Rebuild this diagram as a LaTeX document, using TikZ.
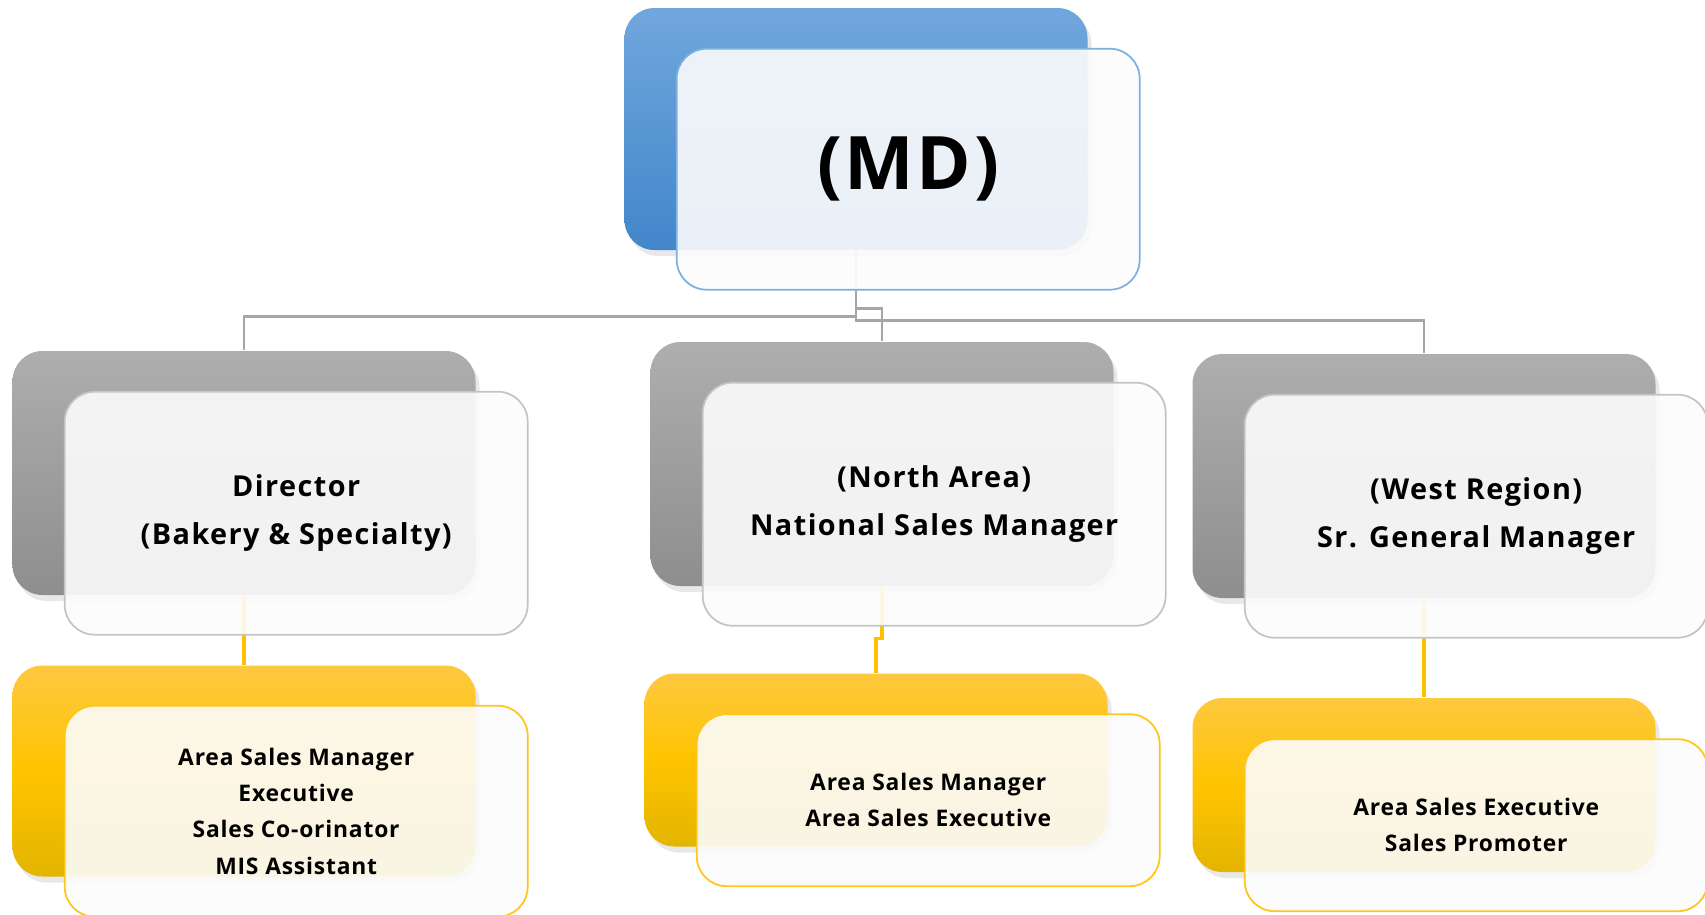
\documentclass[tikz,border=0pt]{standalone}
\usepackage{fontspec}
\setmainfont{Open Sans}
\newfontfamily\widefont{Open Sans}[LetterSpace=5]
\newfontfamily\lightwidefont{Open Sans}[LetterSpace=3.5]
\usetikzlibrary{shadows}
\definecolor{bluetop}{HTML}{70A7DD}
\definecolor{bluebot}{HTML}{4286CA}
\definecolor{bluerim}{HTML}{7DB0E2}
\definecolor{graytop}{HTML}{AEAEAE}
\definecolor{graybot}{HTML}{8E8E8E}
\definecolor{grayrim}{HTML}{C4C4C4}
\definecolor{goldtop}{HTML}{FEC840}
\definecolor{goldmid}{HTML}{FFC400}
\definecolor{goldbot}{HTML}{E3B400}
\definecolor{goldrim}{HTML}{FFC61A}
\definecolor{linegray}{HTML}{A6A6A6}
\definecolor{linegold}{HTML}{FFC000}
\begin{document}
\begin{tikzpicture}
        \tikzstyle{backbox}=[rounded corners=3mm,minimum width=4.63cm,inner sep=0pt,drop shadow={opacity=0.18,shadow xshift=0.4mm,shadow yshift=-0.6mm}]
        \tikzstyle{bluebox}=[backbox,minimum height=2.42cm,top color=bluetop,bottom color=bluebot]
        \tikzstyle{graybox}=[backbox,minimum height=2.44cm,top color=graytop,bottom color=graybot]
        \tikzstyle{goldbox}=[backbox,top color=goldtop,bottom color=goldbot,middle color=goldmid]
        \tikzstyle{frontbox}=[rounded corners=3mm,minimum width=4.63cm,inner sep=0pt,fill=black!1,fill opacity=0.9,text opacity=1,line width=0.5pt,xshift=5.22mm,yshift=-4.02mm,align=center]
        \tikzstyle{headfont}=[font=\widefont\fontsize{8.2}{13.6}\selectfont\bfseries]
        \tikzstyle{staffont}=[font=\lightwidefont\fontsize{6.5}{10.3}\selectfont\bfseries]
        \tikzstyle{conn}=[draw=linegray,line width=0.8pt]
        \tikzstyle{goldconn}=[draw=linegold,line width=0.9pt]
        \useasboundingbox (0,0) rectangle (17.05,-9.145);
        % back boxes
        \node [bluebox] (md) at (8.56,-1.29) {};
        \node [graybox] (dir) at (2.44,-4.73) {};
        \node [graybox] (nsm) at (8.82,-4.64) {};
        \node [graybox] (sgm) at (14.24,-4.76) {};
        \node [goldbox,minimum height=2.11cm] (asl) at (2.44,-7.71) {};
        \node [goldbox,minimum height=1.73cm] (asm) at (8.76,-7.60) {};
        \node [goldbox,minimum height=1.74cm] (ase) at (14.24,-7.85) {};
        % connectors
        \draw[conn] (md.south) -- ++(0,-0.66) -| (dir.north);
        \draw[conn] (md.south) -- ++(0,-0.58) -| (nsm.north);
        \draw[conn] (md.south) -- ++(0,-0.70) -| (sgm.north);
        \draw[goldconn] (dir.south) -- (asl.north);
        \draw[goldconn] (nsm.south) -- ++(0,-0.52) -| (asm.north);
        \draw[goldconn] (sgm.south) -- (ase.north);
        % front boxes
        \node [frontbox,draw=bluerim,minimum height=2.41cm,font=\lightwidefont\fontsize{21}{24}\selectfont\bfseries] (mdF) at (md) {(MD)};
        \node [frontbox,draw=grayrim,minimum height=2.43cm,headfont] (dirF) at (dir) {Director\\(Bakery \& Specialty)};
        \node [frontbox,draw=grayrim,minimum height=2.43cm,headfont] (nsmF) at (nsm) {(North Area)\\National Sales Manager};
        \node [frontbox,draw=grayrim,minimum height=2.43cm,headfont] (sgmF) at (sgm) {(West Region)\\Sr. General Manager};
        \node [frontbox,draw=goldrim,minimum height=2.11cm,staffont] (aslF) at (asl) {Area Sales Manager\\Executive\\Sales Co-orinator\\MIS Assistant};
        \node [frontbox,draw=goldrim,minimum height=1.72cm,staffont] (asmF) at (asm) {Area Sales Manager\\Area Sales Executive};
        \node [frontbox,draw=goldrim,minimum height=1.72cm,staffont] (aseF) at (ase) {Area Sales Executive\\Sales Promoter};
\end{tikzpicture}
\end{document}
